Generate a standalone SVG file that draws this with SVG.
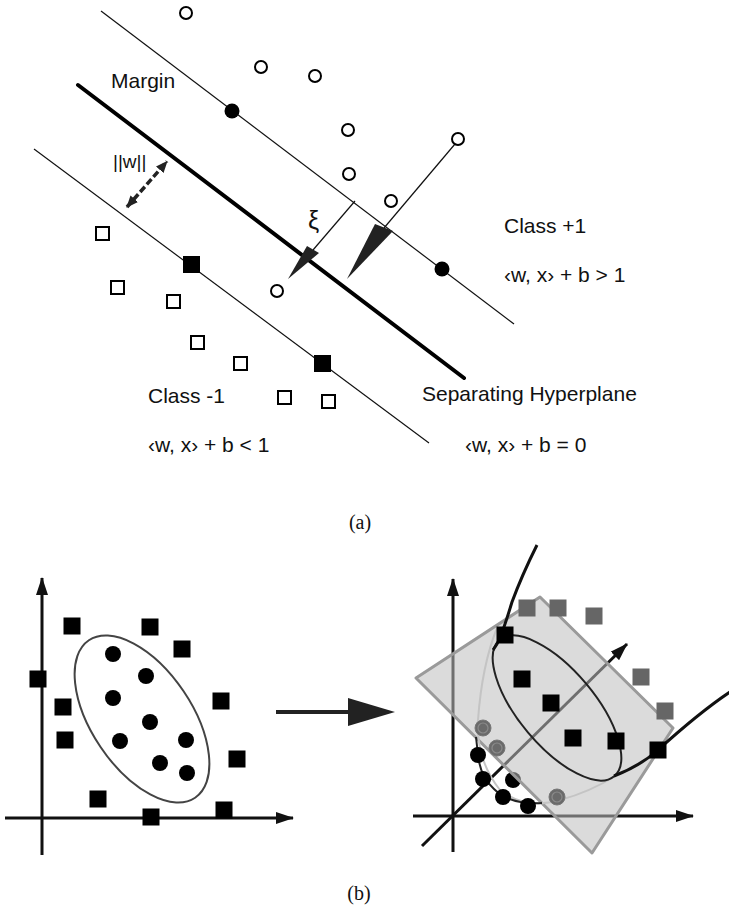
<svg xmlns="http://www.w3.org/2000/svg" width="729" height="912" viewBox="0 0 729 912">
<style>
.t{font-family:"Liberation Sans",Arial,sans-serif;font-size:21px;fill:#111}
.cap{font-family:"Liberation Serif","Times New Roman",serif;font-size:20px;fill:#111;text-anchor:middle}
.thin{stroke:#111;stroke-width:1.2;fill:none}
.oc{fill:#fff;stroke:#000;stroke-width:2}
.fc{fill:#000}
.os{fill:#fff;stroke:#000;stroke-width:2}
.fs{fill:#000}
.ax{stroke:#111;stroke-width:3;fill:none;marker-end:url(#ah)}
.gs{fill:#666}
.gc{fill:#6a6a6a;stroke:#777;stroke-width:1}
.gci{fill:none;stroke:#8a8a8a;stroke-width:1.2}
</style>
<defs>
<marker id="ah" viewBox="0 0 18 12" refX="17" refY="6" markerWidth="18" markerHeight="12" markerUnits="userSpaceOnUse" orient="auto"><path d="M0,0 L18,6 L0,12 z" fill="#111"/></marker>
<marker id="wh" viewBox="0 0 12 10" refX="11" refY="5" markerWidth="12" markerHeight="10" markerUnits="userSpaceOnUse" orient="auto-start-reverse"><path d="M0,0 L12,5 L0,10 z" fill="#222"/></marker>
</defs>

<!-- (a) -->
<g id="lines">
<line class="thin" x1="101" y1="11" x2="514" y2="324"/>
<line x1="78" y1="85" x2="464" y2="378" stroke="#000" stroke-width="4" stroke-linecap="round"/>
<line class="thin" x1="34" y1="149" x2="429" y2="443"/>
</g>
<g id="connectors">
<line x1="127" y1="207" x2="167" y2="161.5" stroke="#222" stroke-width="3.5" stroke-dasharray="7 3" marker-start="url(#wh)" marker-end="url(#wh)"/>
<line class="thin" x1="355" y1="201" x2="313" y2="250"/>
<polygon points="307,246 319,253 288,279" fill="#222"/>
<line class="thin" x1="455" y1="144" x2="384" y2="228"/>
<polygon points="375,224 393,231 347,279" fill="#222"/>
</g>
<g id="class-plus">
<circle class="oc" cx="186" cy="13" r="6"/>
<circle class="oc" cx="261" cy="67" r="6"/>
<circle class="oc" cx="315" cy="76" r="6"/>
<circle class="oc" cx="348" cy="130" r="6"/>
<circle class="oc" cx="349" cy="174" r="6"/>
<circle class="oc" cx="391" cy="201" r="6"/>
<circle class="oc" cx="458" cy="139" r="6"/>
<circle class="oc" cx="277" cy="291" r="6"/>
<circle class="fc" cx="232" cy="111" r="7.5"/>
<circle class="fc" cx="442" cy="269" r="7.5"/>
</g>
<g id="class-minus">
<rect class="os" x="96" y="227" width="13" height="13"/>
<rect class="os" x="111" y="281" width="13" height="13"/>
<rect class="os" x="167" y="295" width="13" height="13"/>
<rect class="os" x="191" y="336" width="13" height="13"/>
<rect class="os" x="234" y="357" width="13" height="13"/>
<rect class="os" x="278" y="391" width="13" height="13"/>
<rect class="os" x="322" y="395" width="13" height="13"/>
<rect class="fs" x="183" y="256" width="17" height="17"/>
<rect class="fs" x="314" y="355" width="17" height="17"/>
</g>
<g id="labels-a">
<text class="t" x="111" y="88">Margin</text>
<text class="t" x="113" y="168" style="font-size:19px">||w||</text>
<text class="t" x="308" y="229" style="font-size:25px">ξ</text>
<text class="t" x="504" y="233">Class +1</text>
<text class="t" x="504" y="282">‹w, x› + b &gt; 1</text>
<text class="t" x="148" y="403">Class -1</text>
<text class="t" x="148" y="452">‹w, x› + b &lt; 1</text>
<text class="t" x="422" y="401">Separating Hyperplane</text>
<text class="t" x="465" y="452">‹w, x› + b = 0</text>
<text class="cap" x="360" y="529">(a)</text>
</g>

<!-- (b) left -->
<g id="input-space">
<line class="ax" x1="42" y1="855" x2="42" y2="578"/>
<line class="ax" x1="5" y1="818" x2="293" y2="818"/>
<ellipse cx="142" cy="719" rx="95" ry="50" transform="rotate(56 142 719)" fill="none" stroke="#444" stroke-width="2"/>
<circle class="fc" cx="113" cy="654" r="8"/>
<circle class="fc" cx="146" cy="676" r="8"/>
<circle class="fc" cx="113" cy="698" r="8"/>
<circle class="fc" cx="150" cy="722" r="8"/>
<circle class="fc" cx="120" cy="741" r="8"/>
<circle class="fc" cx="186" cy="740" r="8"/>
<circle class="fc" cx="160" cy="763" r="8"/>
<circle class="fc" cx="187" cy="773" r="8"/>
<rect class="fs" x="63.5" y="617.5" width="17" height="17"/>
<rect class="fs" x="141.5" y="618.5" width="17" height="17"/>
<rect class="fs" x="173.5" y="640.5" width="17" height="17"/>
<rect class="fs" x="29.5" y="670.5" width="17" height="17"/>
<rect class="fs" x="54.5" y="698.5" width="17" height="17"/>
<rect class="fs" x="56.5" y="731.5" width="17" height="17"/>
<rect class="fs" x="212.5" y="692.5" width="17" height="17"/>
<rect class="fs" x="228.5" y="750.5" width="17" height="17"/>
<rect class="fs" x="89.5" y="790.5" width="17" height="17"/>
<rect class="fs" x="142.5" y="808.5" width="17" height="17"/>
<rect class="fs" x="215.5" y="801.5" width="17" height="17"/>
</g>

<g id="map-arrow">
<line x1="276" y1="712" x2="350" y2="712" stroke="#222" stroke-width="4"/>
<polygon points="348,698 395,712 348,726" fill="#222"/>
</g>

<!-- (b) right -->
<g id="feature-space">
<line class="ax" x1="453" y1="852" x2="453" y2="579"/>
<line class="ax" x1="413" y1="816" x2="693" y2="816"/>
<line class="ax" x1="422" y1="846" x2="627" y2="644"/>
<circle class="fc" cx="513" cy="780" r="8"/>
<polygon points="416,678 540,597 673,728 592,853" fill="#bdbdbd" fill-opacity="0.55" stroke="#9a9a9a" stroke-width="3" stroke-linejoin="round"/>
<path d="M497,628 Q482,665 478,720 Q476,760 500,790 Q525,810 560,800 Q590,792 615,776" fill="none" stroke="#c4c4c4" stroke-width="2"/>
<path d="M476,737 L478,755 Q480,776 494,789 Q510,805 542,803" fill="none" stroke="#222" stroke-width="2"/>
<ellipse cx="557" cy="708" rx="89" ry="38" transform="rotate(50 557 708)" fill="none" stroke="#222" stroke-width="2"/>
<path d="M537,545 Q522,575 512,602 Q505,625 500,638 Q497,645 493,650" fill="none" stroke="#111" stroke-width="3"/>
<path d="M730,692 Q700,712 658,750 Q640,766 614,776" fill="none" stroke="#111" stroke-width="3"/>
<rect class="gs" x="518.5" y="599.5" width="17" height="17"/>
<rect class="gs" x="549.5" y="599.5" width="17" height="17"/>
<rect class="gs" x="585.5" y="607.5" width="17" height="17"/>
<rect class="gs" x="632.5" y="668.5" width="17" height="17"/>
<rect class="gs" x="656.5" y="702.5" width="17" height="17"/>
<rect class="fs" x="496.5" y="626.5" width="17" height="17"/>
<rect class="fs" x="513.5" y="670.5" width="17" height="17"/>
<rect class="fs" x="542.5" y="694.5" width="17" height="17"/>
<rect class="fs" x="564.5" y="729.5" width="17" height="17"/>
<rect class="fs" x="607.5" y="732.5" width="17" height="17"/>
<rect class="fs" x="649.5" y="741.5" width="17" height="17"/>
<circle class="fc" cx="478" cy="755" r="8"/>
<circle class="fc" cx="483" cy="779" r="8"/>
<circle class="fc" cx="503" cy="797" r="8"/>
<circle class="fc" cx="528" cy="806" r="8"/>
<circle class="gc" cx="483" cy="728" r="8"/>
<circle class="gci" cx="483" cy="728" r="5"/>
<circle class="gc" cx="497" cy="748" r="8"/>
<circle class="gci" cx="497" cy="748" r="5"/>
<circle class="gc" cx="557" cy="797" r="8"/>
<circle class="gci" cx="557" cy="797" r="5"/>
</g>
<g id="labels-b">
<text class="cap" x="359" y="900">(b)</text>
</g>
</svg>
